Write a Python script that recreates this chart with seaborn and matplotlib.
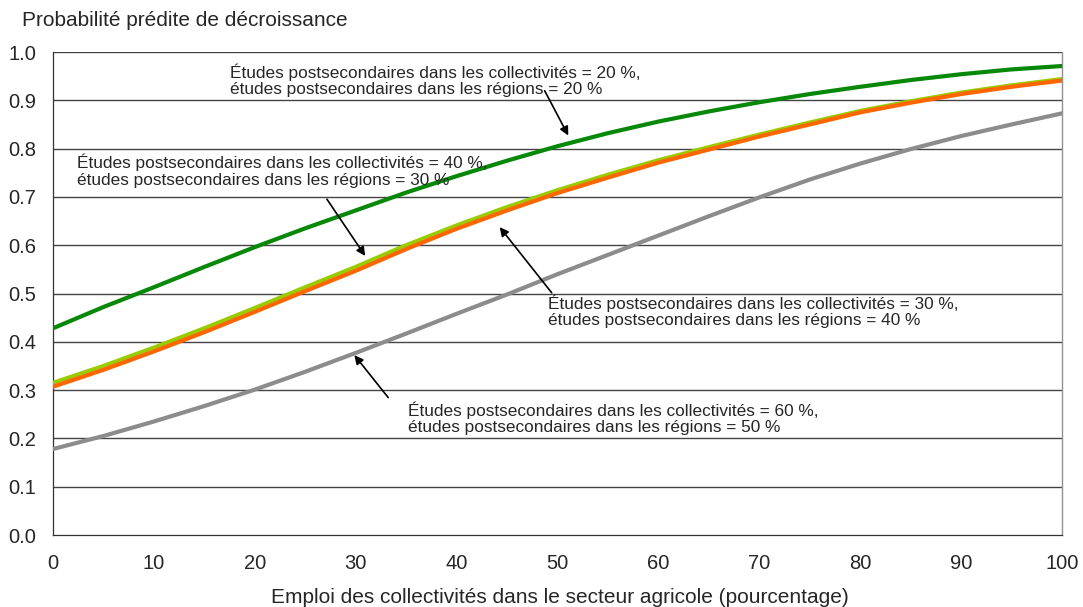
import pandas as pd
import seaborn as sns
import matplotlib.pyplot as plt

# emploi des collectivites dans le secteur agricole (%)
emploi = [0, 5, 10, 15, 20, 25, 30, 35, 40, 45, 50, 55, 60, 65, 70, 75, 80, 85, 90, 95, 100]

# probabilite predite de decroissance
p_20_20 = [0.428, 0.472, 0.513, 0.555, 0.596, 0.635, 0.672, 0.709, 0.743, 0.775, 0.805,
           0.832, 0.856, 0.877, 0.896, 0.913, 0.928, 0.942, 0.954, 0.964, 0.971]
p_40_30 = [0.315, 0.350, 0.388, 0.428, 0.470, 0.513, 0.555, 0.600, 0.641, 0.679, 0.714,
           0.746, 0.776, 0.803, 0.829, 0.854, 0.878, 0.898, 0.916, 0.931, 0.944]
p_30_40 = [0.307, 0.342, 0.380, 0.420, 0.462, 0.505, 0.547, 0.592, 0.634, 0.672, 0.708,
           0.740, 0.771, 0.798, 0.825, 0.850, 0.875, 0.895, 0.913, 0.928, 0.941]
p_60_50 = [0.178, 0.205, 0.235, 0.267, 0.301, 0.338, 0.377, 0.417, 0.458, 0.498, 0.540,
           0.580, 0.620, 0.660, 0.699, 0.736, 0.769, 0.799, 0.826, 0.850, 0.873]

series = {"20/20": p_20_20, "60/50": p_60_50, "40/30": p_40_30, "30/40": p_30_40}
palette = {"20/20": "#088808", "60/50": "#8c8c8c", "40/30": "#99cc00", "30/40": "#ff6600"}

rows = []
for name, vals in series.items():
    for x, y in zip(emploi, vals):
        rows.append({"Emploi": x, "Prob": y, "Serie": name})
df = pd.DataFrame(rows)

sns.set_style("white")
plt.rcParams['font.family'] = ['Liberation Sans', 'DejaVu Sans']

fig = plt.figure(figsize=(10.83, 6.07), dpi=100)
ax = fig.add_axes([0.0489, 0.1186, 0.9317, 0.7957])

for h in [i / 10 for i in range(1, 11)]:
    ax.axhline(h, color='#444444', lw=1.0, zorder=1)

for name in series:
    sns.lineplot(data=df[df['Serie'] == name], x='Emploi', y='Prob', color=palette[name],
                 lw=3.0, ax=ax, zorder=3, legend=False)

ax.set_xlim(0, 100)
ax.set_ylim(0, 1.0)
ax.set_xticks(range(0, 101, 10))
ax.set_yticks([i / 10 for i in range(0, 11)])
ax.set_yticklabels([f"{i / 10:.1f}" for i in range(0, 11)])
ax.tick_params(axis='both', direction='out', length=5, width=0.9, labelsize=14.5, color='#333333')
ax.tick_params(axis='x', pad=9)
ax.tick_params(axis='y', pad=7)
ax.set_xlabel('')
ax.set_ylabel('')
ax.spines['top'].set_visible(False)
ax.spines['right'].set_color('#909090')
ax.spines['right'].set_linewidth(1.0)
for s in ['left', 'bottom']:
    ax.spines[s].set_color('#333333')
    ax.spines[s].set_linewidth(0.9)

fig.text(0.02, 0.967, 'Probabilité prédite de décroissance', fontsize=15, va='center')
fig.text(0.517, 0.016, 'Emploi des collectivités dans le secteur agricole (pourcentage)',
         fontsize=15, ha='center', va='center')

arrow = dict(arrowstyle='-|>', color='black', lw=1.2, mutation_scale=13)
fs = 12.4
notes = [
    ('Études postsecondaires dans les collectivités = 20 %,\nétudes postsecondaires dans les régions = 20 %',
     (17.5, 0.942), (48.6, 0.925), (51.2, 0.822)),
    ('Études postsecondaires dans les collectivités = 40 %,\nétudes postsecondaires dans les régions = 30 %',
     (2.4, 0.754), (27.0, 0.700), (31.1, 0.573)),
    ('Études postsecondaires dans les collectivités = 30 %,\nétudes postsecondaires dans les régions = 40 %',
     (49.1, 0.463), (49.6, 0.497), (44.1, 0.642)),
    ('Études postsecondaires dans les collectivités = 60 %,\nétudes postsecondaires dans les régions = 50 %',
     (35.2, 0.241), (33.4, 0.280), (29.7, 0.377)),
]
for txt, pos, start, end in notes:
    ax.text(pos[0], pos[1], txt, fontsize=fs, va='center', ha='left', linespacing=1.1, zorder=5)
    ax.annotate('', xy=end, xytext=start, arrowprops=arrow, zorder=5)

fig.savefig('out.png', dpi=100)
